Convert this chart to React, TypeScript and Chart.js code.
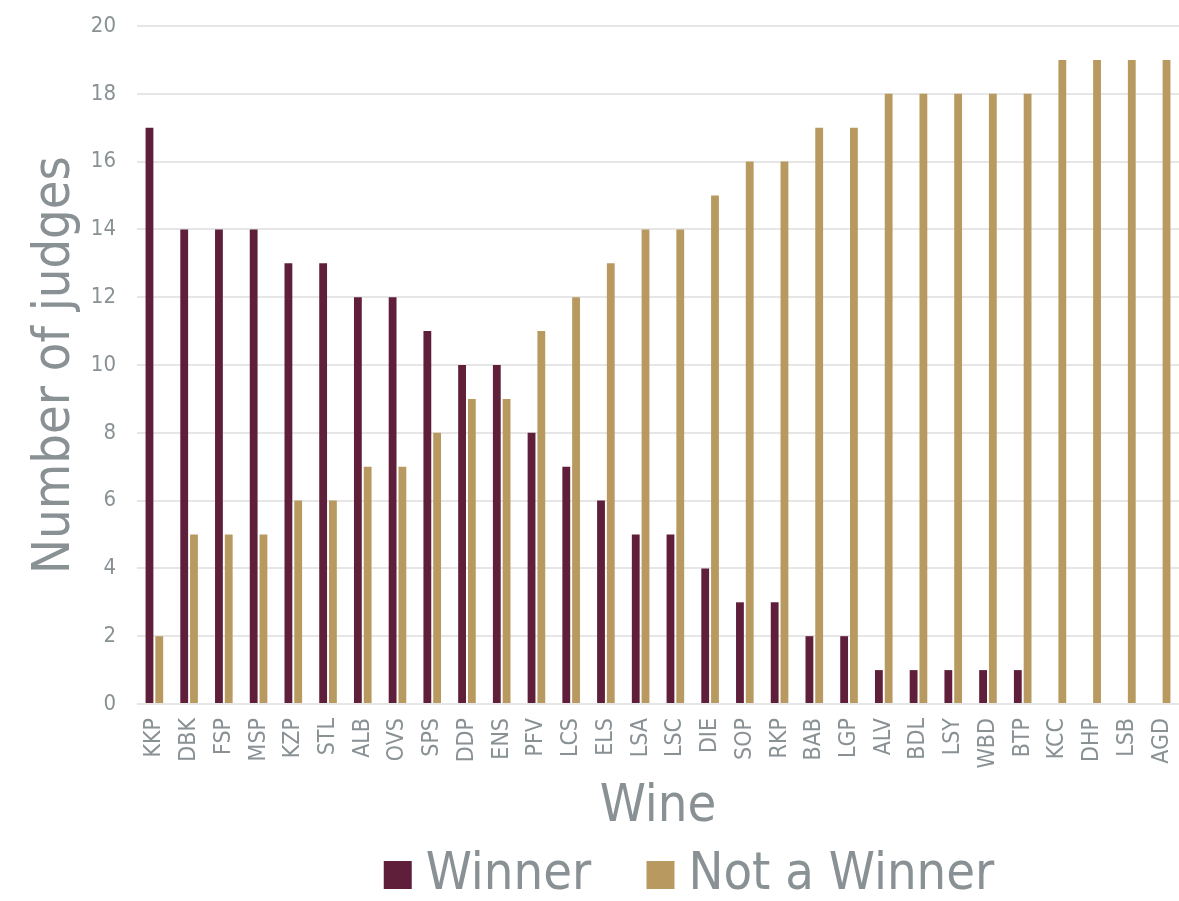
import React, { useEffect, useRef } from "react";
import { Chart, registerables } from "chart.js";

Chart.register(...registerables);

const categories = [
  "KKP", "DBK", "FSP", "MSP", "KZP", "STL", "ALB", "OVS", "SPS", "DDP",
  "ENS", "PFV", "LCS", "ELS", "LSA", "LSC", "DIE", "SOP", "RKP", "BAB",
  "LGP", "ALV", "BDL", "LSY", "WBD", "BTP", "KCC", "DHP", "LSB", "AGD",
];

const winner: (number | null)[] = [
  17, 14, 14, 14, 13, 13, 12, 12, 11, 10,
  10, 8, 7, 6, 5, 5, 4, 3, 3, 2,
  2, 1, 1, 1, 1, 1, null, null, null, null,
];

const notWinner: number[] = [
  2, 5, 5, 5, 6, 6, 7, 7, 8, 9,
  9, 11, 12, 13, 14, 14, 15, 16, 16, 17,
  17, 18, 18, 18, 18, 18, 19, 19, 19, 19,
];

const yTicks = [0, 2, 4, 6, 8, 10, 12, 14, 16, 18, 20];

const GRAY = "#899194";
const FONT = "'DejaVu Sans Condensed', 'DejaVu Sans', sans-serif";

const legendShift = {
  id: "legendShift",
  afterLayout(chart: any) {
    const l = chart.legend;
    if (l) {
      l.left += 37;
      l.right += 37;
    }
  },
};

export default function App() {
  const ref = useRef<HTMLCanvasElement | null>(null);

  useEffect(() => {
    if (!ref.current) return;
    const chart = new Chart(ref.current, {
      type: "bar",
      data: {
        labels: categories,
        datasets: [
          {
            label: "Winner",
            data: winner,
            backgroundColor: "#5f1f3b",
            categoryPercentage: 0.563,
            barPercentage: 0.8,
          },
          {
            label: "Not a Winner",
            data: notWinner,
            backgroundColor: "#b89a60",
            categoryPercentage: 0.563,
            barPercentage: 0.8,
          },
        ],
      },
      plugins: [legendShift],
      options: {
        animation: false,
        responsive: true,
        maintainAspectRatio: false,
        layout: { padding: { top: 26, right: 0, bottom: 0, left: 0 } },
        plugins: {
          tooltip: { enabled: false },
          legend: {
            position: "bottom",
            fullSize: false,
            maxHeight: 119.3,
            labels: {
              usePointStyle: true,
              pointStyle: "rect",
              boxWidth: 4,
              boxHeight: 28,
              padding: 67.3,
              color: GRAY,
              font: { family: FONT, size: 52 },
            },
          },
        },
        scales: {
          x: {
            afterFit: (s: any) => {
              s.height = 77.7;
              s.paddingLeft = 0;
              s.paddingRight = 0;
            },
            grid: { display: false, drawTicks: false },
            border: { display: false },
            ticks: {
              color: GRAY,
              font: { family: FONT, size: 23 },
              minRotation: 90,
              maxRotation: 90,
              autoSkip: false,
              padding: 14,
            },
            title: {
              display: true,
              text: "Wine",
              color: GRAY,
              font: { family: FONT, size: 52 },
              padding: { top: 0, bottom: -56.5 },
            },
          },
          y: {
            min: 0,
            max: 20,
            afterFit: (s: any) => {
              s.width = 137;
              s.paddingTop = 0;
              s.paddingBottom = 0;
            },
            afterBuildTicks: (axis: any) => {
              axis.ticks = yTicks.map((v) => ({ value: v }));
            },
            grid: { color: "#e6e6e6", lineWidth: 2, drawTicks: false },
            border: { display: false },
            ticks: {
              color: GRAY,
              font: { family: FONT, size: 22 },
              padding: 21,
            },
            title: {
              display: true,
              text: "Number of judges",
              color: GRAY,
              font: { family: FONT, size: 52 },
              padding: { top: 24, bottom: 0 },
            },
          },
        },
      },
    });
    return () => chart.destroy();
  }, []);

  return (
    <div style={{ position: "fixed", left: 0, top: 0, width: 1179, height: 901, background: "#fff" }}>
      <canvas ref={ref} />
    </div>
  );
}
